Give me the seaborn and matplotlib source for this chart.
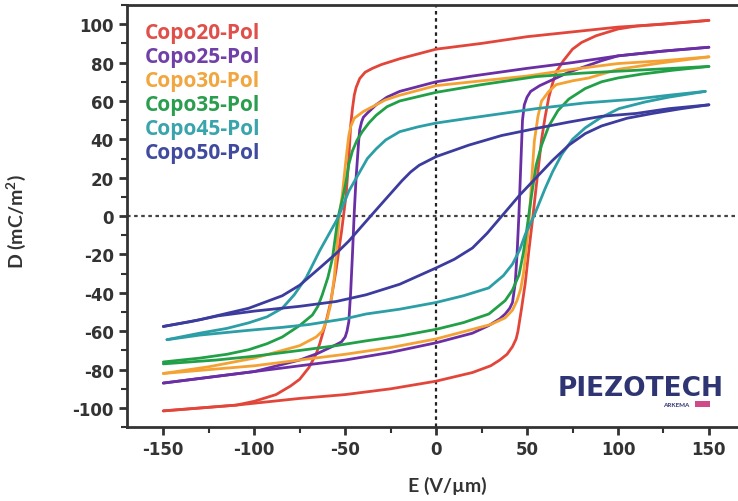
import matplotlib
matplotlib.use("Agg")
import matplotlib.pyplot as plt
import numpy as np
import pandas as pd
import seaborn as sns
from matplotlib.ticker import MultipleLocator

# ---------------- data ----------------
samples = ["Copo20-Pol", "Copo25-Pol", "Copo30-Pol", "Copo35-Pol", "Copo45-Pol", "Copo50-Pol"]
colors = ["#e2463a", "#6a2fa5", "#f4a233", "#22a048", "#2c9ea6", "#3c3c9e"]
label_colors = ["#e0504a", "#7040a8", "#f2a640", "#2a9e4e", "#3aa4ac", "#404a9e"]

# Copo20
c20_up_E = [150, 125, 100, 75, 50, 25, 0, -20, -30, -35, -39, -42, -44, -45, -46, -47, -48, -49.5, -52, -55, -58, -60, -62, -64, -66, -70, -75, -80, -88, -100, -110, -130, -150]
c20_up_D = [102, 100, 98.5, 96, 93.5, 90, 87, 82, 79, 77, 75, 71.7, 67, 63, 56, 47, 30, 11, -8, -28, -45, -53, -60, -66.5, -72, -79, -85, -88.5, -93, -96.5, -98.5, -100, -101.5]
c20_lo_E = [-150, -130, -110, -75, -50, -25, 0, 20, 30, 35, 39, 42, 44, 45, 47, 49, 51, 53, 55, 58, 60, 62, 64, 66, 70, 75, 80, 88, 100, 110, 130, 150]
c20_lo_D = [-101.5, -100, -98.5, -95, -93, -90, -86, -81.5, -78, -75, -72, -68, -64, -60, -48, -35, -18, -2, 15, 40, 52, 62, 69, 75, 81, 87, 90.5, 94, 97.5, 99, 100.5, 102]

# Copo25
c25_up_E = [150, 125, 100, 75, 50, 20, 0, -20, -27, -33, -38, -40, -41, -42, -42.5, -44, -45, -46, -47, -48, -49, -50, -52, -55, -65, -75, -100, -125, -150]
c25_up_D = [88, 86, 83.5, 80, 77, 73, 70, 65, 62, 58, 53.5, 51.5, 49, 45, 40, 20, 2, -20, -40, -55, -60, -63, -65.5, -67, -71.5, -75, -81, -84, -87]
c25_lo_E = [-150, -125, -100, -75, -50, -25, 0, 20, 29, 35, 38, 40.5, 42, 43.5, 44.5, 45.5, 46.5, 47.5, 48.5, 50, 52, 57, 65, 73, 91, 100, 125, 150]
c25_lo_D = [-87, -84, -81, -78, -75, -71, -66, -61, -57, -53.5, -51, -48, -45, -35, -20, 0, 25, 50, 58, 62, 65, 68, 71.5, 75, 81, 83.5, 86, 88]

# Copo30
c30_up_E = [150, 125, 100, 75, 50, 25, 0, -20, -28, -35, -40, -45, -47, -48, -49.5, -51.6, -53, -54.5, -56, -58, -60, -62.6, -66, -70, -75, -100, -125, -150]
c30_up_D = [83, 81, 79.5, 76.5, 73, 70.5, 68, 63, 60.5, 57, 54.5, 51, 46.5, 42, 30, 11, 2, -15, -32, -46, -54, -60, -63, -65, -67.5, -74, -78.5, -82]
c30_lo_E = [-150, -125, -100, -75, -50, -25, 0, 20, 30, 38, 42, 44.5, 46.5, 48, 49.5, 51, 52.5, 54, 56, 58, 62, 66, 75, 84, 100, 125, 150]
c30_lo_D = [-82, -80, -78, -75, -72, -68.5, -64, -59, -56.5, -53, -49, -44, -38, -30, -18, -4, 18, 39, 52, 60, 65, 68.5, 70.5, 72, 76.5, 80, 83]

# Copo35
c35_up_E = [150, 130, 110, 80, 55, 25, 0, -20, -27, -33, -37, -40.6, -43.5, -46, -48, -49.5, -51.5, -54, -57, -59.5, -62.6, -65, -68, -75, -84.6, -93, -103, -115, -130, -150]
c35_up_D = [78, 77, 76, 74.5, 72.7, 68.5, 64.5, 60, 57, 52.5, 48.5, 44, 39.5, 34, 27, 18, 9, -1, -22, -32, -41, -47, -51.5, -57, -63, -66.5, -69.6, -72, -74, -76]
c35_lo_E = [-150, -121, -100, -75, -55, -38.5, -20, 0, 15, 29, 38, 42, 45.6, 48, 50, 52.5, 55, 58, 62, 67, 73, 82, 91, 100, 113, 130, 150]
c35_lo_D = [-77, -75, -73, -70, -67.5, -65, -62.5, -59, -55.5, -51, -44, -38.5, -30.6, -19, -6, 11, 26.5, 37, 47, 55, 61, 66.5, 70, 72, 74, 76, 78]

# Copo45
c45_up_E = [148, 128, 110, 82, 55, 36.6, 18, 0, -10, -20, -27.7, -33, -37.8, -42, -48, -54, -59, -64, -71.4, -78, -84.6, -93, -103, -115, -130, -148]
c45_up_D = [65, 63, 61, 59, 56, 53.5, 51, 48.5, 46.5, 44, 39.7, 35, 30, 23, 13, -1, -9.5, -18, -32, -41, -48, -52.5, -55.6, -58.5, -61, -64.4]
c45_lo_E = [-148, -130, -103, -85, -70, -50, -38.5, -20, 0, 15, 29, 37, 42, 46, 49, 54, 60, 64, 69, 75, 82, 90, 100.5, 115, 128, 148]
c45_lo_D = [-64.4, -62, -59.5, -58, -56.5, -53.5, -51, -48.5, -45, -41.5, -37.4, -31, -25, -17.5, -9.6, 0.5, 14.5, 23, 32, 40, 46, 51, 56, 59.5, 62, 65]

# Copo50
c50_up_E = [150, 128, 110, 91, 73, 55, 36, 18, 0, -9.3, -14, -18.7, -27.6, -36, -48, -55, -64, -75, -84.6, -103, -130, -150]
c50_up_D = [58, 56, 53.5, 52, 49, 45.7, 42, 37, 31, 26.5, 23, 18.5, 9, 0, -13, -19.5, -27, -36, -41.5, -48, -54, -57.5]
c50_lo_E = [-150, -135, -120, -100, -75, -55, -38.5, -20, 0, 10, 20, 28, 37, 46, 55, 64, 73, 82, 91, 105, 119, 135, 150]
c50_lo_D = [-57.5, -55, -52, -49.5, -47, -44.5, -41, -35.5, -27, -22.5, -16.6, -9, 1, 11, 20, 29, 37, 43, 47, 51, 53.5, 56, 58]

x_ticks = [-150, -100, -50, 0, 50, 100, 150]
y_ticks = [-100, -80, -60, -40, -20, 0, 20, 40, 60, 80, 100]

branches = [
    (samples[0], c20_up_E, c20_up_D, c20_lo_E, c20_lo_D),
    (samples[1], c25_up_E, c25_up_D, c25_lo_E, c25_lo_D),
    (samples[2], c30_up_E, c30_up_D, c30_lo_E, c30_lo_D),
    (samples[3], c35_up_E, c35_up_D, c35_lo_E, c35_lo_D),
    (samples[4], c45_up_E, c45_up_D, c45_lo_E, c45_lo_D),
    (samples[5], c50_up_E, c50_up_D, c50_lo_E, c50_lo_D),
]

rows = []
for name, eu, du, el, dl in branches:
    for i, (e, d) in enumerate(zip(eu, du)):
        rows.append((name, name + "_up", i, e, d))
    for i, (e, d) in enumerate(zip(el, dl)):
        rows.append((name, name + "_lo", i, e, d))
df = pd.DataFrame(rows, columns=["sample", "curve", "order", "E", "D"])

# ---------------- figure ----------------
sns.set_style("ticks")
plt.rcParams["font.family"] = ["Lato", "DejaVu Sans"]
plt.rcParams["axes.unicode_minus"] = False

fig = plt.figure(figsize=(7.38, 5.02), dpi=100)
ax = fig.add_axes([0.172, 0.147, 0.828, 0.841])

ax.axvline(0, color="#222222", lw=1.6, ls=(0, (1.6, 1.6)), zorder=1)
ax.axhline(0, color="#444444", lw=1.6, ls=(0, (1.6, 1.6)), zorder=1)

sns.lineplot(data=df, x="E", y="D", hue="sample", units="curve", estimator=None,
             sort=False, palette=dict(zip(samples, colors)), linewidth=2.0,
             legend=False, ax=ax, zorder=3)
for ln in ax.lines:
    ln.set_solid_joinstyle("round")

ax.set_xlim(-170, 166)
ax.set_ylim(-110, 110)
ax.set_xticks(x_ticks)
ax.set_yticks(y_ticks)
ax.xaxis.set_minor_locator(MultipleLocator(25))
ax.yaxis.set_minor_locator(MultipleLocator(10))

for s in ["left", "bottom", "top"]:
    ax.spines[s].set_color("#333333")
    ax.spines[s].set_linewidth(2.0)
ax.spines["right"].set_visible(False)

ax.tick_params(which="major", direction="out", length=6, width=2, color="#333333",
               labelsize=12, labelcolor="#333333")
ax.tick_params(which="minor", direction="out", length=4, width=1.5, color="#333333")
for lab in ax.get_xticklabels() + ax.get_yticklabels():
    lab.set_fontweight("bold")
    lab.set_family(["DejaVu Sans"])

ax.set_xlabel("E (V/µm)", fontsize=14, fontweight="bold", color="#333333")
ax.set_ylabel("D (mC/m$^\\mathregular{2}$)", fontsize=14, fontweight="bold", color="#333333")
ax.xaxis.set_label_coords(0.525, -0.115)
ax.yaxis.set_label_coords(-0.162, 0.49)

# legend-style coloured labels
for i, (name, col) in enumerate(zip(samples, label_colors)):
    ax.text(0.029, 0.936 - i * 0.0572, name, transform=ax.transAxes, color=col,
            fontsize=15, fontweight="bold", family=["Open Sans", "DejaVu Sans"],
            va="center", ha="left")

# logo text
ax.text(0.84, 0.092, "PIEZOTECH", transform=ax.transAxes, color="#2e3572",
        fontsize=19, fontweight="black", family=["DejaVu Sans"], va="center", ha="center")
ax.text(0.92, 0.054, "ARKEMA", transform=ax.transAxes, color="#2e3572",
        fontsize=4.5, fontweight="bold", va="center", ha="right")
ax.text(0.93, 0.054, "          ", transform=ax.transAxes, fontsize=4, va="center", ha="left",
        bbox=dict(boxstyle="square,pad=0.1", fc="#d04a8a", ec="none"))

fig.savefig("out.png", dpi=100, facecolor="white")
